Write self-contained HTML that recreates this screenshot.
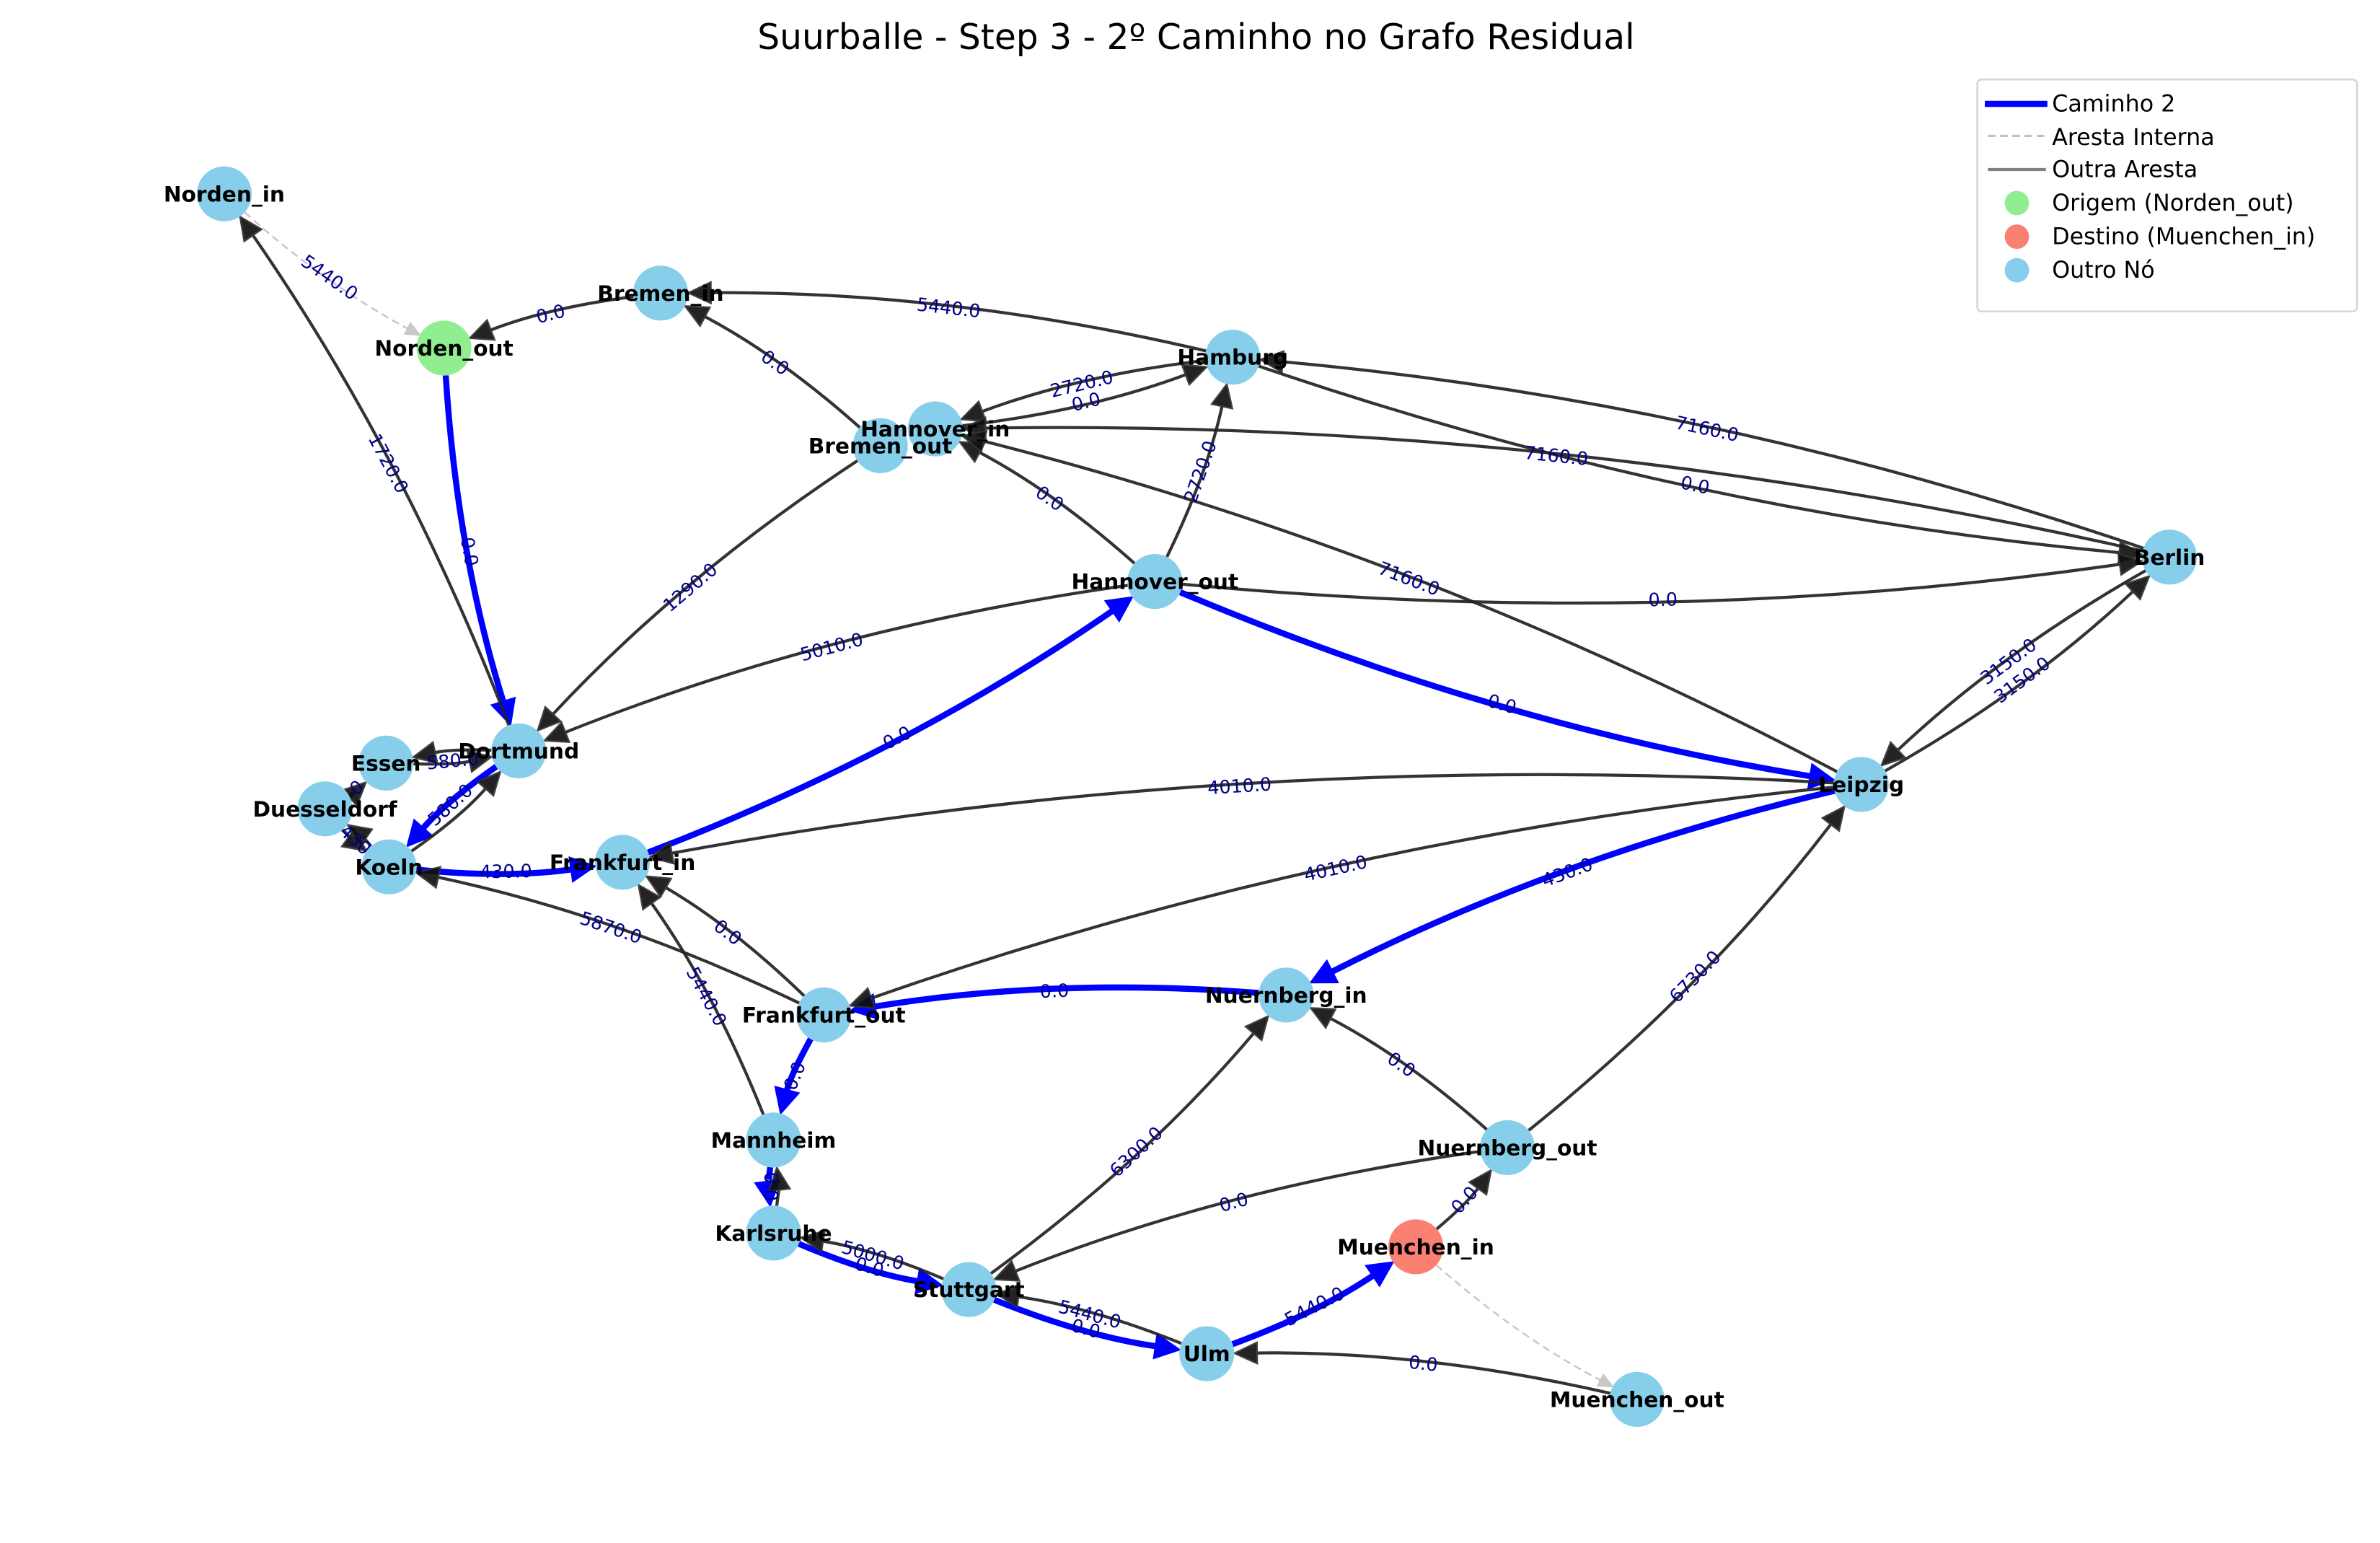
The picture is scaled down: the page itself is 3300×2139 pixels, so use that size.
<!DOCTYPE html>
<html><head><meta charset="utf-8"><style>
html,body{margin:0;padding:0;background:#fff;}
svg{display:block;}
text{font-family:"DejaVu Sans","Liberation Sans",sans-serif;}
</style></head><body>
<svg id="s" width="3300" height="2139" viewBox="0 0 1560 1011" xmlns="http://www.w3.org/2000/svg">
<rect width="1560" height="1011" fill="#fff"/>
<text x="784" y="32" font-size="23" text-anchor="middle" fill="#000">Suurballe - Step 3 - 2º Caminho no Grafo Residual</text>
<g id="edges"></g><g id="labels"></g><g id="nodes"></g>
<g>
<rect x="1296" y="52" width="249" height="152" rx="3" fill="#fff" stroke="#d6d6d6" stroke-width="1.2"/>
<line x1="1301" y1="68" x2="1342" y2="68" stroke="#00f" stroke-width="4"/>
<text x="1345" y="73" font-size="15">Caminho 2</text>
<line x1="1303" y1="89" x2="1341" y2="89" stroke="#c0c0c0" stroke-width="1.5" stroke-dasharray="5,3"/>
<text x="1345" y="95" font-size="15">Aresta Interna</text>
<line x1="1303" y1="111" x2="1341" y2="111" stroke="#808080" stroke-width="2"/>
<text x="1345" y="116" font-size="15">Outra Aresta</text>
<circle cx="1322" cy="133" r="8" fill="#90ee90"/><text x="1345" y="138" font-size="15">Origem (Norden_out)</text>
<circle cx="1322" cy="155" r="8" fill="#fa8072"/><text x="1345" y="160" font-size="15">Destino (Muenchen_in)</text>
<circle cx="1322" cy="177" r="8" fill="#87ceeb"/><text x="1345" y="182" font-size="15">Outro Nó</text>
</g>
</svg>
<script>
var N={Norden_in:[147,127],Norden_out:[291,228],Bremen_in:[433,192],Bremen_out:[577,292],Hannover_in:[613,281],Hamburg:[808,234],Berlin:[1422,365],Hannover_out:[757,381],Dortmund:[340,492],Essen:[253,500],Duesseldorf:[213,530],Koeln:[255,568],Frankfurt_in:[408,565],Leipzig:[1220,514],Frankfurt_out:[540,665],Nuernberg_in:[843,652],Mannheim:[507,747],Nuernberg_out:[988,752],Karlsruhe:[507,808],Stuttgart:[635,845],Muenchen_in:[928,817],Ulm:[791,887],Muenchen_out:[1073,917]};
var E=[
["Norden_out","Dortmund","b","0.0"],["Dortmund","Koeln","b","580.0"],["Koeln","Frankfurt_in","b","430.0"],["Frankfurt_in","Hannover_out","b","0.0"],["Hannover_out","Leipzig","b","0.0"],["Leipzig","Nuernberg_in","b","430.0"],["Nuernberg_in","Frankfurt_out","b","0.0"],["Frankfurt_out","Mannheim","b","0.0"],["Mannheim","Karlsruhe","b","0.0"],["Karlsruhe","Stuttgart","b","0.0"],["Stuttgart","Ulm","b","0.0"],["Ulm","Muenchen_in","b","5440.0"],
["Norden_in","Norden_out","d","5440.0"],["Muenchen_in","Muenchen_out","d",""],
["Bremen_in","Norden_out","k","0.0"],["Hamburg","Bremen_in","k","5440.0"],["Bremen_out","Bremen_in","k","0.0"],["Hamburg","Hannover_in","k","2720.0"],["Hannover_in","Hamburg","k","0.0"],["Hannover_out","Hamburg","k","2720.0"],["Hannover_out","Hannover_in","k","0.0"],["Berlin","Hamburg","k","7160.0"],["Hamburg","Berlin","k","0.0"],["Berlin","Hannover_in","k","7160.0"],["Hannover_out","Berlin","k","0.0"],["Leipzig","Hannover_in","k","7160.0"],["Leipzig","Berlin","k","3150.0"],["Berlin","Leipzig","k","3150.0"],["Dortmund","Norden_in","k","1720.0"],["Bremen_out","Dortmund","k","1290.0"],["Hannover_out","Dortmund","k","5010.0"],["Leipzig","Frankfurt_in","k","4010.0"],["Leipzig","Frankfurt_out","k","4010.0"],["Frankfurt_out","Koeln","k","5870.0"],["Frankfurt_out","Frankfurt_in","k","0.0"],["Mannheim","Frankfurt_in","k","5440.0"],["Stuttgart","Nuernberg_in","k","6300.0"],["Nuernberg_out","Nuernberg_in","k","0.0"],["Nuernberg_out","Leipzig","k","6730.0"],["Nuernberg_out","Stuttgart","k","0.0"],["Muenchen_in","Nuernberg_out","k","0.0"],["Muenchen_out","Ulm","k","0.0"],
["Essen","Dortmund","k","580.0"],["Dortmund","Essen","k",""],["Koeln","Dortmund","k",""],["Duesseldorf","Essen","k","0"],["Duesseldorf","Koeln","k","430"],["Koeln","Duesseldorf","k",""],["Karlsruhe","Mannheim","k",""],["Stuttgart","Karlsruhe","k","5000.0"],["Ulm","Stuttgart","k","5440.0"]
];
var NS="http://www.w3.org/2000/svg",eg=document.getElementById("edges"),lg=document.getElementById("labels"),ng=document.getElementById("nodes");
function el(t,a,p){var e=document.createElementNS(NS,t);for(var k in a)e.setAttribute(k,a[k]);p.appendChild(e);return e;}
var c=0.06,R=18;
E.forEach(function(e){
 var a=N[e[0]],b=N[e[1]],dx=b[0]-a[0],dy=b[1]-a[1];
 var cx=(a[0]+b[0])/2-c*dy,cy=(a[1]+b[1])/2+c*dx;
 var vx=b[0]-cx,vy=b[1]-cy,L=Math.hypot(vx,vy);vx/=L;vy/=L;
 var ex=b[0]-vx*R,ey=b[1]-vy*R;
 var ux=cx-a[0],uy=cy-a[1],L2=Math.hypot(ux,uy);ux/=L2;uy/=L2;
 var sx=a[0]+ux*R,sy=a[1]+uy*R;
 var col=e[2]=="b"?"#0000ff":(e[2]=="d"?"#c8c8c8":"#222");
 var w=e[2]=="b"?4:(e[2]=="d"?1.2:2);
 var hl=e[2]=="b"?16:(e[2]=="d"?9:15),hw=e[2]=="b"?8:(e[2]=="d"?4:7);
 var bx=ex-vx*hl,by=ey-vy*hl;
 var op=e[2]=="k"?0.92:1;
 el("path",{d:"M"+sx+","+sy+" Q"+cx+","+cy+" "+bx+","+by,fill:"none",stroke:col,"stroke-width":w,"stroke-dasharray":e[2]=="d"?"5,3":"none",opacity:op},eg);
 el("polygon",{points:ex+","+ey+" "+(bx-vy*hw)+","+(by+vx*hw)+" "+(bx+vy*hw)+","+(by-vx*hw),fill:e[2]=="d"?"#c8c8c8":(e[2]=="b"?"#00f":"#111"),stroke:e[2]=="k"?"#333":col,"stroke-width":1,opacity:op},eg);
 if(e[3]){
  var mx=(a[0]+b[0])/2-c*dy/2,my=(a[1]+b[1])/2+c*dx/2;
  var ang=Math.atan2(dy,dx)*180/Math.PI;if(ang>90)ang-=180;if(ang<-90)ang+=180;
  var t=el("text",{x:mx,y:my+4,"font-size":12,fill:"#00008b","text-anchor":"middle",transform:"rotate("+ang+" "+mx+" "+my+")"},lg);t.textContent=e[3];
 }
});
for(var k in N){var p=N[k];var f=k=="Norden_out"?"#90ee90":(k=="Muenchen_in"?"#fa8072":"#87ceeb");
 el("circle",{cx:p[0],cy:p[1],r:18,fill:f},ng);}
for(var k in N){var p=N[k];var t=el("text",{x:p[0],y:p[1]+5,"font-size":14,"font-weight":"bold","text-anchor":"middle",fill:"#000"},ng);t.textContent=k;}
</script>
</body></html>
